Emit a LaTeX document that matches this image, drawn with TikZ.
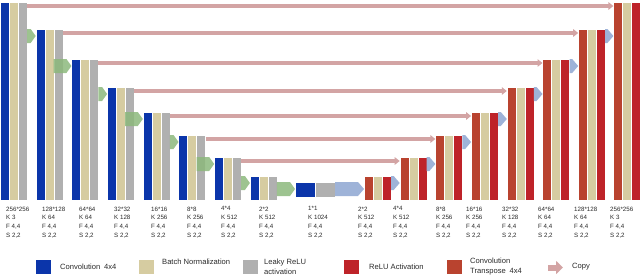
\documentclass[tikz,border=0pt]{standalone}
\usepackage{fontspec}
\setmainfont{Liberation Sans}
\usepackage{xcolor}
\usepackage{tikz}
\usetikzlibrary{arrows.meta, positioning, calc}
\definecolor{convblue}{HTML}{0B35AA}
\definecolor{normtan}{HTML}{D6CCA1}
\definecolor{leakygray}{HTML}{B0B0B0}
\definecolor{relured}{HTML}{BE2329}
\definecolor{transbrown}{HTML}{B9432F}
\definecolor{flowgreen}{HTML}{8CB87C}
\definecolor{flowblue}{HTML}{9EB3D8}
\definecolor{copypink}{HTML}{D3A4A4}
\definecolor{inkgray}{HTML}{2A2A2A}

\tikzset{
  bar/.style={draw=white, line width=0.3pt, inner sep=0pt, outer sep=0pt, minimum width=9pt, anchor=north west},
  convbar/.style={bar, fill=convblue},
  normbar/.style={bar, fill=normtan},
  leakybar/.style={bar, fill=leakygray},
  relubar/.style={bar, fill=relured},
  transbar/.style={bar, fill=transbrown},
  downflow/.style={fill=flowgreen, fill opacity=0.85},
  upflow/.style={fill=flowblue},
  copyline/.style={draw=copypink, line width=3.2pt, -{Triangle[length=5pt, width=7.5pt]}},
  sizelabel/.style={anchor=north west, inner sep=0pt, align=left, text=inkgray, font=\fontsize{6.2}{8.7}\selectfont},
  legendbox/.style={minimum width=15pt, minimum height=14pt, inner sep=0pt, anchor=west},
  legendtext/.style={anchor=west, inner sep=0pt, align=left, text=inkgray, font=\fontsize{7.6}{10}\selectfont}
}

\begin{document}
\begin{tikzpicture}[x=1pt, y=-1pt]
    \useasboundingbox (0,0) rectangle (640,276);

    % encoder
    \foreach \i/\x/\t in {1/0/2, 2/35.7/29, 3/71.4/59, 4/107.1/87, 5/142.8/112, 6/178.5/135, 7/214.2/157, 8/249.9/176} {
        \node[convbar, minimum height=200-\t] (ec\i) at (\x,\t) {};
        \node[normbar, minimum height=200-\t] (en\i) at (ec\i.north east) {};
        \node[leakybar, minimum height=200-\t] (eg\i) at (en\i.north east) {};
    }

    % bottleneck
    \node[convbar, minimum width=20pt, minimum height=15pt] (bc) at (295,182) {};
    \node[leakybar, minimum width=20pt, minimum height=15pt] (bg) at (bc.north east) {};

    % decoder
    \foreach \j/\x/\t in {1/364/176, 2/399.7/157, 3/435.4/135, 4/471.1/112, 5/506.8/87, 6/542.5/59, 7/578.2/29, 8/613.4/2} {
        \node[transbar, minimum height=200-\t] (dt\j) at (\x,\t) {};
        \node[normbar, minimum height=200-\t] (dn\j) at (dt\j.north east) {};
        \node[relubar, minimum height=200-\t] (dr\j) at (dn\j.north east) {};
    }

    % down steps
    \foreach \a/\b in {eg1.east/ec2, eg2.west/ec3, eg3.east/ec4, eg4.west/ec5, eg5.east/ec6, eg6.west/ec7, eg7.east/ec8, eg8.east/bc}
        \fill[downflow] let \p1=(\a), \p2=(\b.north west) in
            (\x1,\y2) -- (\x2-5pt,\y2) -- (\x2,\y2-7pt) -- (\x2-5pt,\y2-14pt) -- (\x1,\y2-14pt) -- cycle;

    % up steps
    \foreach \a/\b in {bg/dt1, dr1/dt2, dr2/dt3, dr3/dt4, dr4/dt5, dr5/dt6, dr6/dt7, dr7/dt8}
        \fill[upflow] let \p1=(\a.north east), \p2=(\b.west) in
            (\x1,\y1) -- (\x2-6pt,\y1) -- (\x2,\y1-7pt) -- (\x2-6pt,\y1-14pt) -- (\x1,\y1-14pt) -- cycle;

    % copy
    \foreach \i/\j in {1/8, 2/7, 3/6, 4/5, 5/4, 6/3, 7/2}
        \draw[copyline] ([yshift=-4pt]eg\i.north east) -- ([yshift=-4pt]dt\j.north west);

    % sizes
    \foreach \n/\x/\s/\k in {1/6/256*256/3, 2/42/128*128/64, 3/79/64*64/64, 4/114/32*32/128, 5/151/16*16/256, 6/187/8*8/256, 7/221/4*4/512, 8/259/2*2/512, 9/308/1*1/1024, 10/358/2*2/512, 11/393/4*4/512, 12/436/8*8/256, 13/466/16*16/256, 14/502/32*32/128, 15/538/64*64/64, 16/574/128*128/64, 17/610/256*256/3}
        \node[sizelabel] (lab\n) at (\x,206.5) {\s\\K \k\\F 4,4\\S 2,2};

    % legend
    \node[legendbox, fill=convblue] (kconv) at (36,267) {};
    \node[legendtext] (tconv) at (60,267) {Convolution\enspace 4x4};
    \node[legendbox, fill=normtan] (knorm) at (139,267) {};
    \node[legendtext] (tnorm) at (162,261.5) {Batch Normalization};
    \node[legendbox, fill=leakygray] (kleaky) at (243,267) {};
    \node[legendtext] (tleaky) at (264,266.5) {Leaky ReLU\\activation};
    \node[legendbox, fill=relured] (krelu) at (344,267) {};
    \node[legendtext] (trelu) at (369,267) {ReLU Activation};
    \node[legendbox, fill=transbrown] (ktrans) at (447,267) {};
    \node[legendtext] (ttrans) at (470,266.5) {Convolution\\Transpose\enspace 4x4};
    \coordinate (kcopyA) at (548,267.5);
    \coordinate (kcopyB) at (563,267.5);
    \draw[draw=copypink, line width=6pt, -{Triangle[length=7pt, width=13pt]}] (kcopyA) -- (kcopyB);
    \node[legendtext] (tcopy) at (572,267) {Copy};
\end{tikzpicture}
\end{document}
